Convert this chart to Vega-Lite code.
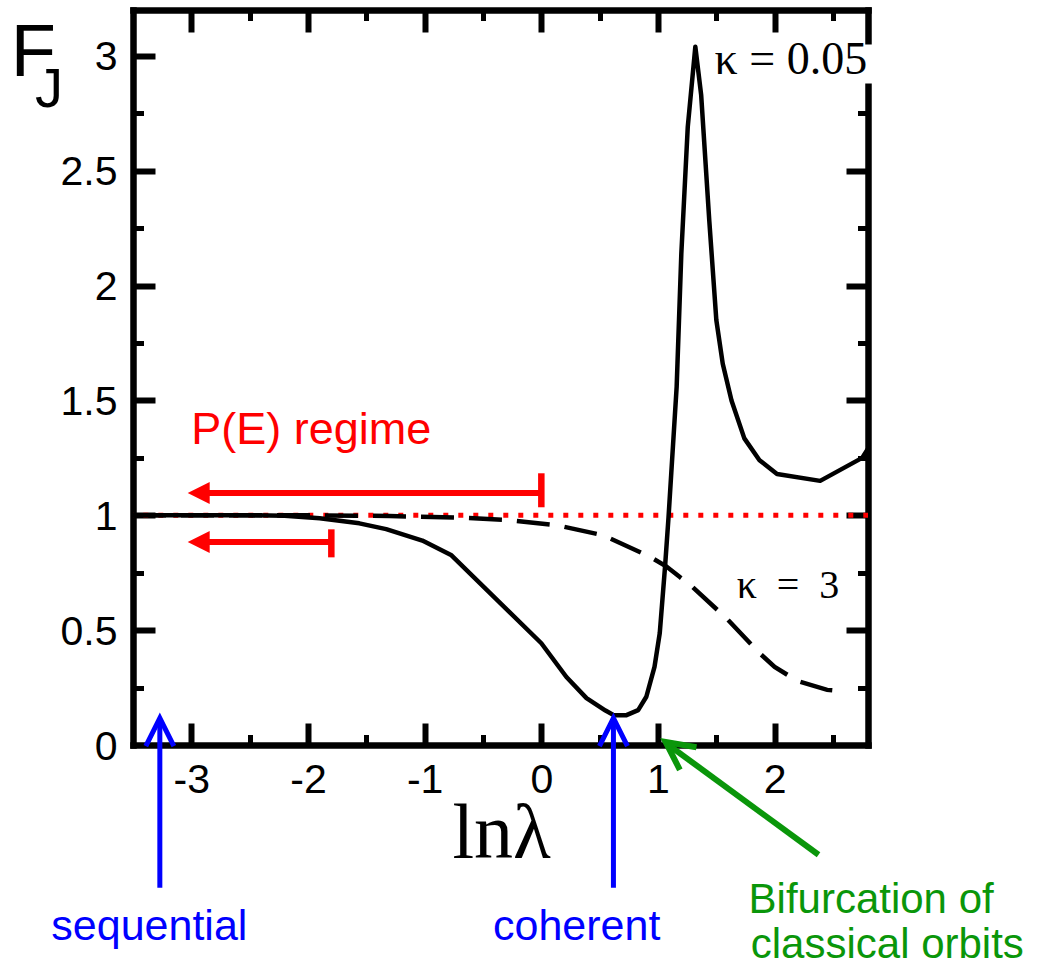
{
  "$schema": "https://vega.github.io/schema/vega-lite/v6.json",
  "width": 735,
  "height": 735,
  "autosize": {"type": "none"},
  "padding": {"left": 133, "top": 10, "right": 175, "bottom": 223},
  "background": "white",
  "view": {"stroke": null, "fill": null},
  "datasets": {
    "solid": [
      {"x": -3.5, "y": 1.0}, {"x": -3.0, "y": 1.0}, {"x": -2.5, "y": 1.0}, {"x": -2.2, "y": 0.998},
      {"x": -1.9, "y": 0.987}, {"x": -1.56, "y": 0.965}, {"x": -1.33, "y": 0.94}, {"x": -1.02, "y": 0.89},
      {"x": -0.77, "y": 0.826}, {"x": 0.0, "y": 0.443}, {"x": 0.215, "y": 0.296}, {"x": 0.387, "y": 0.204},
      {"x": 0.55, "y": 0.15}, {"x": 0.62, "y": 0.13}, {"x": 0.73, "y": 0.13}, {"x": 0.83, "y": 0.152},
      {"x": 0.9, "y": 0.21}, {"x": 0.97, "y": 0.34}, {"x": 1.015, "y": 0.487}, {"x": 1.06, "y": 0.774},
      {"x": 1.09, "y": 0.99}, {"x": 1.16, "y": 1.56}, {"x": 1.2, "y": 2.14}, {"x": 1.255, "y": 2.69},
      {"x": 1.32, "y": 3.04}, {"x": 1.37, "y": 2.83}, {"x": 1.44, "y": 2.28}, {"x": 1.5, "y": 1.85},
      {"x": 1.555, "y": 1.66}, {"x": 1.63, "y": 1.5}, {"x": 1.74, "y": 1.335}, {"x": 1.87, "y": 1.24},
      {"x": 2.02, "y": 1.18}, {"x": 2.39, "y": 1.15}, {"x": 2.75, "y": 1.25}, {"x": 2.8, "y": 1.29}
    ],
    "dashed": [
      {"x": -3.5, "y": 1.0}, {"x": -2.5, "y": 1.0}, {"x": -2.0, "y": 1.0}, {"x": -1.3, "y": 0.997},
      {"x": -0.7, "y": 0.99}, {"x": -0.3, "y": 0.98}, {"x": 0.13, "y": 0.957}, {"x": 0.53, "y": 0.913},
      {"x": 0.93, "y": 0.82}, {"x": 1.07, "y": 0.778}, {"x": 1.19, "y": 0.73}, {"x": 1.27, "y": 0.7},
      {"x": 1.59, "y": 0.55}, {"x": 1.87, "y": 0.4}, {"x": 2.0, "y": 0.34}, {"x": 2.19, "y": 0.28},
      {"x": 2.45, "y": 0.24}, {"x": 2.62, "y": 0.232}
    ],
    "unity": [{"x": -3.5, "y": 1.0}, {"x": 2.8, "y": 1.0}],
    "redLines": [{"x": -2.95, "x2": 0.0, "y": 1.097}, {"x": -2.95, "x2": -1.8, "y": 0.884}],
    "redBars": [{"x": 0.0, "y": 1.035, "y2": 1.183}, {"x": -1.8, "y": 0.817, "y2": 0.939}],
    "redHeads": [{"x": -2.937, "y": 1.097}, {"x": -2.937, "y": 0.884}],
    "blueLines": [{"x": -3.27, "y": -0.622, "y2": 0.1}, {"x": 0.618, "y": -0.622, "y2": 0.1}],
    "blueHeads": [{"x": -3.27, "y": 0.0565}, {"x": 0.618, "y": 0.0565}],
    "greenLine": [{"x": 2.376, "y": -0.478, "x2": 1.08, "y2": 0.004}],
    "greenHead": [{"x": 1.162, "y": -0.023}],
    "box": [{"x": 1.44, "x2": 2.87, "y": 2.88, "y2": 3.05}],
    "redText": [{"x": -3.0, "y": 1.312, "label": "P(E) regime"}],
    "blueText": [{"x": -3.36, "y": -0.85, "label": "sequential"}, {"x": 0.303, "y": -0.85, "label": "coherent"}],
    "greenText": [{"x": 1.776, "y": -0.732, "label": "Bifurcation of"}, {"x": 1.795, "y": -0.927, "label": "classical orbits"}],
    "kappa1": [{"x": 1.485, "y": 2.923, "label": "κ = 0.05"}],
    "kappa2": [{"x": 1.674, "y": 0.639, "label": "κ\u2002=\u20023"}],
    "xTitle": [{"x": -0.34, "y": -0.491, "label": "lnλ"}],
    "yTitleF": [{"x": -4.548, "y": 2.913, "label": "F"}],
    "yTitleJ": [{"x": -4.34, "y": 2.778, "label": "J"}]
  },
  "resolve": {"axis": {"x": "independent", "y": "independent"}},
  "layer": [
    {
      "data": {"name": "unity"},
      "mark": {"type": "line", "color": "#ff0000", "strokeWidth": 5, "strokeDash": [5, 10], "strokeDashOffset": 4.7},
      "encoding": {
        "x": {"field": "x", "type": "quantitative", "scale": {"domain": [-3.5, 2.8], "nice": false, "zero": false},
          "axis": {"orient": "top", "values": [-3, -2.5, -2, -1.5, -1, -0.5, 0, 0.5, 1, 1.5, 2, 2.5], "labels": false, "domain": true, "domainColor": "black", "domainWidth": 6.5, "domainCap": "square", "grid": false, "title": null, "ticks": true, "tickColor": "black", "zindex": 0,
            "tickWidth": {"condition": {"test": "datum.value % 1 === 0", "value": 6}, "value": 5},
            "tickSize": {"condition": {"test": "datum.value % 1 === 0", "value": -22}, "value": -10.5}}},
        "y": {"field": "y", "type": "quantitative", "scale": {"domain": [0, 3.2], "nice": false, "zero": false},
          "axis": {"orient": "right", "values": [0.25, 0.5, 0.75, 1, 1.25, 1.5, 1.75, 2, 2.25, 2.5, 2.75], "labels": false, "domain": true, "domainColor": "black", "domainWidth": 6.5, "domainCap": "square", "grid": false, "title": null, "ticks": true, "tickColor": "black", "zindex": 0,
            "tickWidth": {"condition": {"test": "datum.value % 0.5 === 0", "value": 6}, "value": 5},
            "tickSize": {"condition": {"test": "datum.value % 0.5 === 0", "value": -22}, "value": -10.5}}}
      }
    },
    {
      "data": {"name": "dashed"},
      "mark": {"type": "line", "color": "black", "strokeWidth": 4.5, "strokeDash": [33, 15]},
      "encoding": {
        "x": {"field": "x", "type": "quantitative", "scale": {"domain": [-3.5, 2.8], "nice": false, "zero": false},
          "axis": {"orient": "bottom", "values": [-3, -2.5, -2, -1.5, -1, -0.5, 0, 0.5, 1, 1.5, 2, 2.5], "labels": false, "domain": false, "grid": false, "title": null, "ticks": true, "tickColor": "black", "zindex": 0,
            "tickWidth": {"condition": {"test": "datum.value % 1 === 0", "value": 6}, "value": 5},
            "tickSize": {"condition": {"test": "datum.value % 1 === 0", "value": -22}, "value": -10.5}}},
        "y": {"field": "y", "type": "quantitative", "scale": {"domain": [0, 3.2], "nice": false, "zero": false},
          "axis": {"orient": "left", "values": [0.25, 0.5, 0.75, 1, 1.25, 1.5, 1.75, 2, 2.25, 2.5, 2.75, 3], "labels": false, "domain": false, "grid": false, "title": null, "ticks": true, "tickColor": "black", "zindex": 0,
            "tickWidth": {"condition": {"test": "datum.value % 0.5 === 0", "value": 6}, "value": 5},
            "tickSize": {"condition": {"test": "datum.value % 0.5 === 0", "value": -22}, "value": -10.5}}}
      }
    },
    {
      "data": {"name": "solid"},
      "mark": {"type": "line", "color": "black", "strokeWidth": 4.5, "strokeJoin": "round"},
      "encoding": {
        "x": {"field": "x", "type": "quantitative", "scale": {"domain": [-3.5, 2.8], "nice": false, "zero": false},
          "axis": {"orient": "bottom", "values": [-3, -2, -1, 0, 1, 2], "ticks": false, "domain": true, "domainColor": "black", "domainWidth": 6.5, "domainCap": "square", "zindex": 0, "grid": false, "title": null, "labelExpr": "'' + datum.value", "labelFont": "Liberation Sans", "labelFontSize": 41, "labelColor": "black", "labelPadding": 15, "labelFlush": false, "labelOverlap": false, "labelBound": false}},
        "y": {"field": "y", "type": "quantitative", "scale": {"domain": [0, 3.2], "nice": false, "zero": false},
          "axis": {"orient": "left", "values": [0, 0.5, 1, 1.5, 2, 2.5, 3], "ticks": false, "domain": true, "domainColor": "black", "domainWidth": 6.5, "domainCap": "square", "zindex": 0, "grid": false, "title": null, "labelExpr": "'' + datum.value", "labelFont": "Liberation Sans", "labelFontSize": 41, "labelColor": "black", "labelPadding": 16, "labelOffset": 2, "labelFlush": false, "labelOverlap": false, "labelBound": false}}
      }
    },
    {
      "data": {"name": "redLines"},
      "mark": {"type": "rule", "color": "#ff0000", "strokeWidth": 6},
      "encoding": {
        "x": {"field": "x", "type": "quantitative", "scale": {"domain": [-3.5, 2.8], "nice": false, "zero": false}, "axis": null},
        "x2": {"field": "x2"},
        "y": {"field": "y", "type": "quantitative", "scale": {"domain": [0, 3.2], "nice": false, "zero": false}, "axis": null}
      }
    },
    {
      "data": {"name": "redBars"},
      "mark": {"type": "rule", "color": "#ff0000", "strokeWidth": 6.5},
      "encoding": {
        "x": {"field": "x", "type": "quantitative", "scale": {"domain": [-3.5, 2.8], "nice": false, "zero": false}, "axis": null},
        "y": {"field": "y", "type": "quantitative", "scale": {"domain": [0, 3.2], "nice": false, "zero": false}, "axis": null},
        "y2": {"field": "y2"}
      }
    },
    {
      "data": {"name": "redHeads"},
      "mark": {"type": "point", "shape": "M-1,0L1,-1L1,1Z", "filled": true, "color": "#ff0000", "size": 484, "opacity": 1, "strokeWidth": 0},
      "encoding": {
        "x": {"field": "x", "type": "quantitative", "scale": {"domain": [-3.5, 2.8], "nice": false, "zero": false}, "axis": null},
        "y": {"field": "y", "type": "quantitative", "scale": {"domain": [0, 3.2], "nice": false, "zero": false}, "axis": null}
      }
    },
    {
      "data": {"name": "blueLines"},
      "mark": {"type": "rule", "color": "#0000ff", "strokeWidth": 5},
      "encoding": {
        "x": {"field": "x", "type": "quantitative", "scale": {"domain": [-3.5, 2.8], "nice": false, "zero": false}, "axis": null},
        "y": {"field": "y", "type": "quantitative", "scale": {"domain": [0, 3.2], "nice": false, "zero": false}, "axis": null},
        "y2": {"field": "y2"}
      }
    },
    {
      "data": {"name": "blueHeads"},
      "mark": {"type": "point", "shape": "M-1,1L0,-1L1,1", "filled": false, "color": "#0000ff", "size": 784, "opacity": 1, "strokeWidth": 5, "strokeJoin": "miter"},
      "encoding": {
        "x": {"field": "x", "type": "quantitative", "scale": {"domain": [-3.5, 2.8], "nice": false, "zero": false}, "axis": null},
        "y": {"field": "y", "type": "quantitative", "scale": {"domain": [0, 3.2], "nice": false, "zero": false}, "axis": null}
      }
    },
    {
      "data": {"name": "greenLine"},
      "mark": {"type": "rule", "color": "#0a960a", "strokeWidth": 6},
      "encoding": {
        "x": {"field": "x", "type": "quantitative", "scale": {"domain": [-3.5, 2.8], "nice": false, "zero": false}, "axis": null},
        "y": {"field": "y", "type": "quantitative", "scale": {"domain": [0, 3.2], "nice": false, "zero": false}, "axis": null},
        "x2": {"field": "x2"},
        "y2": {"field": "y2"}
      }
    },
    {
      "data": {"name": "greenHead"},
      "mark": {"type": "point", "shape": "M-1,1L0,-1L1,1", "filled": false, "color": "#0a960a", "size": 784, "angle": 306.4, "opacity": 1, "strokeWidth": 6, "strokeJoin": "miter"},
      "encoding": {
        "x": {"field": "x", "type": "quantitative", "scale": {"domain": [-3.5, 2.8], "nice": false, "zero": false}, "axis": null},
        "y": {"field": "y", "type": "quantitative", "scale": {"domain": [0, 3.2], "nice": false, "zero": false}, "axis": null}
      }
    },
    {
      "data": {"name": "box"},
      "mark": {"type": "rect", "color": "white", "opacity": 1},
      "encoding": {
        "x": {"field": "x", "type": "quantitative", "scale": {"domain": [-3.5, 2.8], "nice": false, "zero": false}, "axis": null},
        "x2": {"field": "x2"},
        "y": {"field": "y", "type": "quantitative", "scale": {"domain": [0, 3.2], "nice": false, "zero": false}, "axis": null},
        "y2": {"field": "y2"}
      }
    },
    {
      "data": {"name": "redText"},
      "mark": {"type": "text", "color": "#ff0000", "font": "Liberation Sans", "fontSize": 45, "align": "left", "baseline": "alphabetic"},
      "encoding": {
        "x": {"field": "x", "type": "quantitative", "scale": {"domain": [-3.5, 2.8], "nice": false, "zero": false}, "axis": null},
        "y": {"field": "y", "type": "quantitative", "scale": {"domain": [0, 3.2], "nice": false, "zero": false}, "axis": null},
        "text": {"field": "label"}
      }
    },
    {
      "data": {"name": "blueText"},
      "mark": {"type": "text", "color": "#0000ff", "font": "Liberation Sans", "fontSize": 43, "align": "center", "baseline": "alphabetic"},
      "encoding": {
        "x": {"field": "x", "type": "quantitative", "scale": {"domain": [-3.5, 2.8], "nice": false, "zero": false}, "axis": null},
        "y": {"field": "y", "type": "quantitative", "scale": {"domain": [0, 3.2], "nice": false, "zero": false}, "axis": null},
        "text": {"field": "label"}
      }
    },
    {
      "data": {"name": "greenText"},
      "mark": {"type": "text", "color": "#0a960a", "font": "Liberation Sans", "fontSize": 42, "align": "left", "baseline": "alphabetic"},
      "encoding": {
        "x": {"field": "x", "type": "quantitative", "scale": {"domain": [-3.5, 2.8], "nice": false, "zero": false}, "axis": null},
        "y": {"field": "y", "type": "quantitative", "scale": {"domain": [0, 3.2], "nice": false, "zero": false}, "axis": null},
        "text": {"field": "label"}
      }
    },
    {
      "data": {"name": "kappa1"},
      "mark": {"type": "text", "color": "black", "font": "Liberation Serif", "fontSize": 46, "align": "left", "baseline": "alphabetic"},
      "encoding": {
        "x": {"field": "x", "type": "quantitative", "scale": {"domain": [-3.5, 2.8], "nice": false, "zero": false}, "axis": null},
        "y": {"field": "y", "type": "quantitative", "scale": {"domain": [0, 3.2], "nice": false, "zero": false}, "axis": null},
        "text": {"field": "label"}
      }
    },
    {
      "data": {"name": "kappa2"},
      "mark": {"type": "text", "color": "black", "font": "Liberation Serif", "fontSize": 40, "align": "left", "baseline": "alphabetic"},
      "encoding": {
        "x": {"field": "x", "type": "quantitative", "scale": {"domain": [-3.5, 2.8], "nice": false, "zero": false}, "axis": null},
        "y": {"field": "y", "type": "quantitative", "scale": {"domain": [0, 3.2], "nice": false, "zero": false}, "axis": null},
        "text": {"field": "label"}
      }
    },
    {
      "data": {"name": "xTitle"},
      "mark": {"type": "text", "color": "black", "font": "Liberation Serif", "fontSize": 78, "align": "center", "baseline": "alphabetic"},
      "encoding": {
        "x": {"field": "x", "type": "quantitative", "scale": {"domain": [-3.5, 2.8], "nice": false, "zero": false}, "axis": null},
        "y": {"field": "y", "type": "quantitative", "scale": {"domain": [0, 3.2], "nice": false, "zero": false}, "axis": null},
        "text": {"field": "label"}
      }
    },
    {
      "data": {"name": "yTitleF"},
      "mark": {"type": "text", "color": "black", "font": "Liberation Sans", "fontSize": 74, "align": "left", "baseline": "alphabetic"},
      "encoding": {
        "x": {"field": "x", "type": "quantitative", "scale": {"domain": [-3.5, 2.8], "nice": false, "zero": false}, "axis": null},
        "y": {"field": "y", "type": "quantitative", "scale": {"domain": [0, 3.2], "nice": false, "zero": false}, "axis": null},
        "text": {"field": "label"}
      }
    },
    {
      "data": {"name": "yTitleJ"},
      "mark": {"type": "text", "color": "black", "font": "Liberation Sans", "fontSize": 56, "align": "left", "baseline": "alphabetic"},
      "encoding": {
        "x": {"field": "x", "type": "quantitative", "scale": {"domain": [-3.5, 2.8], "nice": false, "zero": false}, "axis": null},
        "y": {"field": "y", "type": "quantitative", "scale": {"domain": [0, 3.2], "nice": false, "zero": false}, "axis": null},
        "text": {"field": "label"}
      }
    }
  ]
}
